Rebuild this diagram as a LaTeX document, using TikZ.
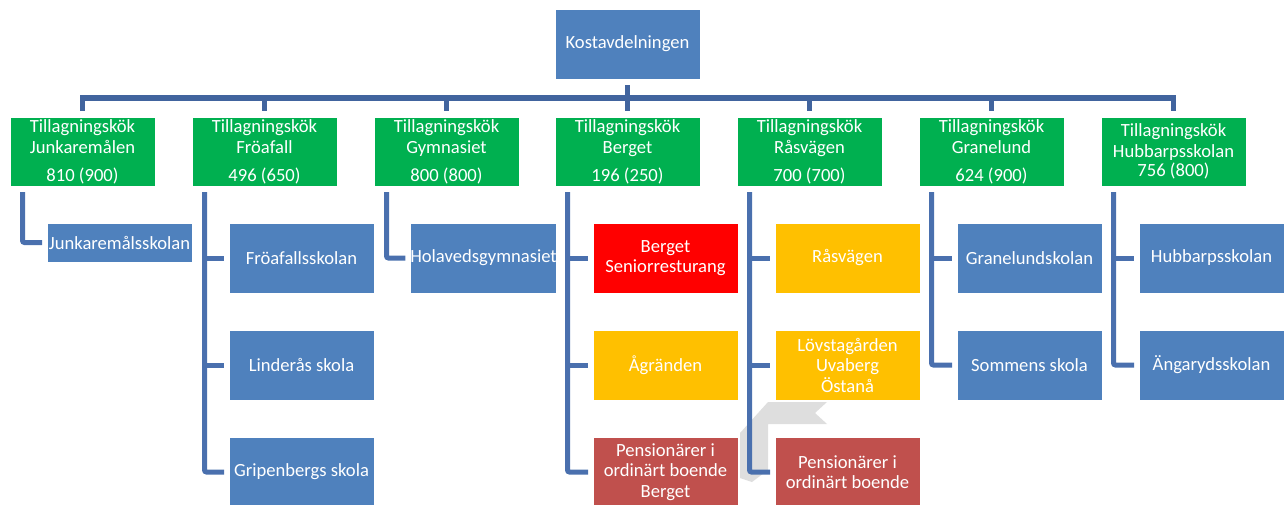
\documentclass[tikz,border=0pt]{standalone}
\usepackage{fontspec}
\setmainfont{Carlito}
\definecolor{boxblue}{HTML}{4F81BD}
\definecolor{kgreen}{HTML}{00B050}
\definecolor{sred}{HTML}{FF0000}
\definecolor{syellow}{HTML}{FFC000}
\definecolor{sbrick}{HTML}{C0504D}
\definecolor{busblue}{HTML}{41649E}
\definecolor{connblue}{HTML}{4A70AE}
\definecolor{ghost}{RGB}{222,222,222}
\begin{document}
\begin{tikzpicture}[x=1pt,y=-1pt,
  box/.style={minimum width=145pt, minimum height=70pt, inner sep=0pt, outer sep=0pt,
    draw=white, line width=0.6pt, text=white, align=center,
    font=\fontsize{18.6}{20.5}\selectfont},
  rootbox/.style={box, fill=boxblue},
  kitchen/.style={box, fill=kgreen, minimum height=69pt, font=\fontsize{18.6}{21}\selectfont},
  school/.style={box, fill=boxblue},
  senior/.style={box, fill=sred},
  elder/.style={box, fill=syellow},
  home/.style={box, fill=sbrick},
  bus/.style={draw=busblue, line width=5.5pt},
  conn/.style={draw=connblue, line width=5pt, rounded corners=2pt}
]
\useasboundingbox (0,0) rectangle (1285,504);

% background grey bent arrow
\fill[ghost] (740,433) -- (768,402) -- (827,402) -- (815,413) -- (827,424)
  -- (768,424) -- (768,470) -- (752,482) -- (740,478) -- cycle;

% root
\node[rootbox] (root) at (627.5,44) {Kostavdelningen};

% kitchens
\node[kitchen] (g1) at (82.5,151.5)  {Tillagningskök\\Junkaremålen\\[7pt]810 (900)};
\node[kitchen] (g2) at (264.5,151.5) {Tillagningskök\\Fröafall\\[7pt]496 (650)};
\node[kitchen] (g3) at (446.5,151.5) {Tillagningskök\\Gymnasiet\\[7pt]800 (800)};
\node[kitchen] (g4) at (627.5,151.5) {Tillagningskök\\Berget\\[7pt]196 (250)};
\node[kitchen] (g5) at (809.5,151.5) {Tillagningskök\\Råsvägen\\[7pt]700 (700)};
\node[kitchen] (g6) at (991.5,151.5) {Tillagningskök\\Granelund\\[7pt]624 (900)};
\node[kitchen] (g7) at (1173.5,151.5) {Tillagningskök\\Hubbarpsskolan\\[-2pt]756 (800)};

% units
\node[school, minimum height=39pt] (c11) at (119.5,242.5) {Junkaremålsskolan};
\node[school] (c21) at (301.5,258) {Fröafallsskolan};
\node[school] (c22) at (301.5,365) {Linderås skola};
\node[school] (c23) at (301.5,472) {Gripenbergs skola};
\node[school] (c31) at (483.5,258) {Holavedsgymnasiet};
\node[senior] (c41) at (665.5,258) {Berget\\Seniorresturang};
\node[elder]  (c42) at (665.5,365) {Ågränden};
\node[home]   (c43) at (665.5,472) {Pensionärer i\\ordinärt boende\\Berget};
\node[elder]  (c51) at (847.5,258) {Råsvägen};
\node[elder]  (c52) at (847.5,365) {Lövstagården\\Uvaberg\\Östanå};
\node[home]   (c53) at (847.5,472) {Pensionärer i\\ordinärt boende};
\node[school] (c61) at (1029.5,258) {Granelundskolan};
\node[school] (c62) at (1029.5,365) {Sommens skola};
\node[school] (c71) at (1211.5,258) {Hubbarpsskolan};
\node[school] (c72) at (1211.5,365) {Ängarydsskolan};

% top connectors
\coordinate (busy) at (627.5,98);
\draw[bus] ([yshift=-6pt]root.south) -- ([yshift=6pt]g4.north);
\draw[bus] ([yshift=6pt]g1.north) -- (g1.north |- busy) -- (g7.north |- busy) -- ([yshift=6pt]g7.north);
\foreach \g in {g2,g3,g5,g6}
  \draw[bus] (\g.north |- busy) -- ([yshift=6pt]\g.north);

% column connectors
\foreach \g/\n in {g1/1,g2/2,g3/3,g4/4,g5/5,g6/6,g7/7}
  \coordinate (t\n) at ([xshift=12.5pt,yshift=-6pt]\g.south west);

\draw[conn] (t1) |- ([xshift=-5pt]c11.west);
\draw[conn] (t2) |- ([xshift=-5pt]c23.west);
\draw[conn] (t2 |- c21.west) -- ([xshift=-5pt]c21.west);
\draw[conn] (t2 |- c22.west) -- ([xshift=-5pt]c22.west);
\draw[conn] (t3) |- ([xshift=-5pt]c31.west);
\draw[conn] (t4) |- ([xshift=-5pt]c43.west);
\draw[conn] (t4 |- c41.west) -- ([xshift=-5pt]c41.west);
\draw[conn] (t4 |- c42.west) -- ([xshift=-5pt]c42.west);
\draw[conn] (t5) |- ([xshift=-5pt]c53.west);
\draw[conn] (t5 |- c51.west) -- ([xshift=-5pt]c51.west);
\draw[conn] (t5 |- c52.west) -- ([xshift=-5pt]c52.west);
\draw[conn] (t6) |- ([xshift=-5pt]c62.west);
\draw[conn] (t6 |- c61.west) -- ([xshift=-5pt]c61.west);
\draw[conn] (t7) |- ([xshift=-5pt]c72.west);
\draw[conn] (t7 |- c71.west) -- ([xshift=-5pt]c71.west);
\end{tikzpicture}
\end{document}
